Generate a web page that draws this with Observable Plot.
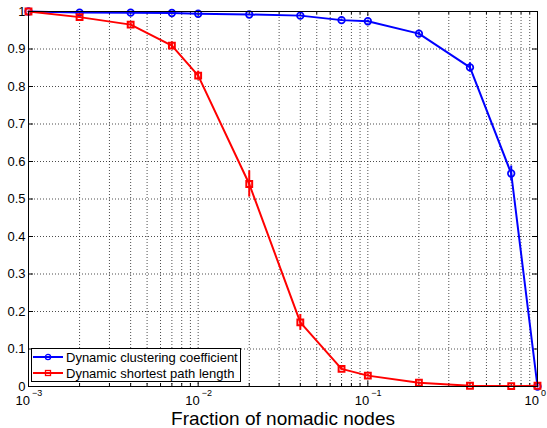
<!DOCTYPE html>
<html>
<head>
<meta charset="utf-8">
<script src="https://cdn.jsdelivr.net/npm/d3@7"></script>
<script src="https://cdn.jsdelivr.net/npm/@observablehq/plot@0.6"></script>
<style>
  html, body { margin: 0; padding: 0; background: #fff; }
  #wrap { position: relative; width: 547px; height: 428px; font-family: "Liberation Sans", Arial, Helvetica, sans-serif; }
  #legend { position: absolute; left: 31px; top: 348px; width: 208px; height: 32px; border: 1px solid #000; background: #fff; font-size: 13px; }
  #legend .row { position: absolute; left: 0; height: 16px; display: flex; align-items: center; white-space: nowrap; }
  #legend svg { display: block; margin-left: 1px; margin-right: 3px; }
</style>
</head>
<body>
<div id="wrap"></div>
<script>
// ---- data ----
const fraction = [0.001, 0.002, 0.004, 0.007, 0.01, 0.02, 0.04, 0.07, 0.1, 0.2, 0.4, 0.7, 1];
const clustering = [1.0, 0.997, 0.997, 0.996, 0.994, 0.992, 0.989, 0.977, 0.974, 0.941, 0.851, 0.568, 0.0];
const clusteringErr = [0, 0, 0, 0, 0, 0, 0.002, 0.003, 0.003, 0.004, 0.012, 0.02, 0];
const shortestPath = [1.0, 0.985, 0.965, 0.909, 0.829, 0.54, 0.171, 0.047, 0.029, 0.01, 0.002, 0.001, 0.002];
const shortestErr = [0, 0.003, 0.004, 0.01, 0.012, 0.035, 0.021, 0.004, 0.003, 0.002, 0, 0, 0];
const seriesNames = ["Dynamic clustering coefficient", "Dynamic shortest path length"];
const seriesColors = ["#0000ff", "#ff0000"];
const xMajorTicks = [0.001, 0.01, 0.1, 1];
const xMajorExponents = ["\u22123", "\u22122", "\u22121", "0"];
const xMinorTicks = [0.002,0.003,0.004,0.005,0.006,0.007,0.008,0.009,0.02,0.03,0.04,0.05,0.06,0.07,0.08,0.09,0.2,0.3,0.4,0.5,0.6,0.7,0.8,0.9];
const yTicks = [0, 0.1, 0.2, 0.3, 0.4, 0.5, 0.6, 0.7, 0.8, 0.9, 1];
const yTickLabels = ["0", "0.1", "0.2", "0.3", "0.4", "0.5", "0.6", "0.7", "0.8", "0.9", "1"];
const xTitle = "Fraction of nomadic nodes";

// ---- build tables ----
const clus = fraction.map((x, i) => ({x, y: clustering[i], e: clusteringErr[i]}));
const spl = fraction.map((x, i) => ({x, y: shortestPath[i], e: shortestErr[i]}));

const W = 547, H = 428, mL = 28, mR = 10, mT = 11, mB = 42;
const iW = W - mL - mR, iH = H - mT - mB;
const font = "Liberation Sans, Arial, Helvetica, sans-serif";
const grid = {stroke: "#000", strokeOpacity: 0.7, strokeDasharray: "1,2", strokeWidth: 1};

const chart = Plot.plot({
  width: W, height: H,
  marginLeft: mL, marginRight: mR, marginTop: mT, marginBottom: mB,
  style: {fontFamily: font, background: "#fff", color: "#000", overflow: "visible"},
  x: {type: "log", domain: [0.001, 1], axis: null},
  y: {domain: [0, 1], axis: null},
  marks: [
    // grid
    Plot.ruleX(xMinorTicks.concat(xMajorTicks.slice(1, -1)), grid),
    Plot.ruleY(yTicks.slice(1, -1), grid),
    // ticks (inside)
    Plot.ruleX(xMajorTicks, {insetTop: iH - 5, stroke: "#000"}),
    Plot.ruleX(xMajorTicks, {insetBottom: iH - 5, stroke: "#000"}),
    Plot.ruleX(xMinorTicks, {insetTop: iH - 3, stroke: "#000"}),
    Plot.ruleX(xMinorTicks, {insetBottom: iH - 3, stroke: "#000"}),
    Plot.ruleY(yTicks, {insetRight: iW - 5, stroke: "#000"}),
    Plot.ruleY(yTicks, {insetLeft: iW - 5, stroke: "#000"}),
    // tick labels
    Plot.text(yTicks, {y: d => d, text: (d, i) => yTickLabels[i], frameAnchor: "left", textAnchor: "end", dx: -3, fontSize: 13, fill: "#000"}),
    Plot.text(xMajorTicks, {x: d => d, text: () => "10", frameAnchor: "bottom", textAnchor: "end", lineAnchor: "bottom", dx: 1.5, dy: 18, fontSize: 13, fill: "#000"}),
    Plot.text(xMajorTicks, {x: d => d, text: (d, i) => xMajorExponents[i], frameAnchor: "bottom", textAnchor: "start", lineAnchor: "bottom", dx: 3.5, dy: 9, fontSize: 9, fill: "#000"}),
    Plot.text([xTitle], {text: d => d, frameAnchor: "bottom", lineAnchor: "bottom", dy: 38.5, fontSize: 19, fill: "#000"}),
    // series: clustering
    Plot.ruleX(clus.filter(d => d.e > 0), {x: "x", y1: d => d.y - d.e, y2: d => d.y + d.e, stroke: seriesColors[0], strokeWidth: 2}),
    Plot.line(clus, {x: "x", y: "y", stroke: seriesColors[0], strokeWidth: 2}),
    Plot.dot(clus, {x: "x", y: "y", r: 3.3, stroke: seriesColors[0], strokeWidth: 1.7, fill: "none"}),
    // series: shortest path
    Plot.ruleX(spl.filter(d => d.e > 0), {x: "x", y1: d => d.y - d.e, y2: d => d.y + d.e, stroke: seriesColors[1], strokeWidth: 2}),
    Plot.line(spl, {x: "x", y: "y", stroke: seriesColors[1], strokeWidth: 2}),
    Plot.dot(spl, {x: "x", y: "y", symbol: "square", r: 3.3, stroke: seriesColors[1], strokeWidth: 2, fill: "none"}),
    Plot.frame({stroke: "#000", strokeWidth: 1})
  ]
});

const wrap = document.getElementById("wrap");
wrap.appendChild(chart);

// legend
const legend = document.createElement("div");
legend.id = "legend";
seriesNames.forEach((name, i) => {
  const row = document.createElement("div");
  row.className = "row";
  row.style.top = (i === 0 ? 0 : 16) + "px";
  const marker = i === 0
    ? `<circle cx="15" cy="6" r="2.6" fill="none" stroke="${seriesColors[i]}" stroke-width="1.3"/>`
    : `<rect x="12.5" y="3.5" width="5" height="5" fill="none" stroke="${seriesColors[i]}" stroke-width="1.3"/>`;
  row.innerHTML = `<svg width="30" height="12"><line x1="0" y1="6" x2="30" y2="6" stroke="${seriesColors[i]}" stroke-width="2"/>${marker}</svg><span>${name}</span>`;
  legend.appendChild(row);
});
wrap.appendChild(legend);
</script>
</body>
</html>
